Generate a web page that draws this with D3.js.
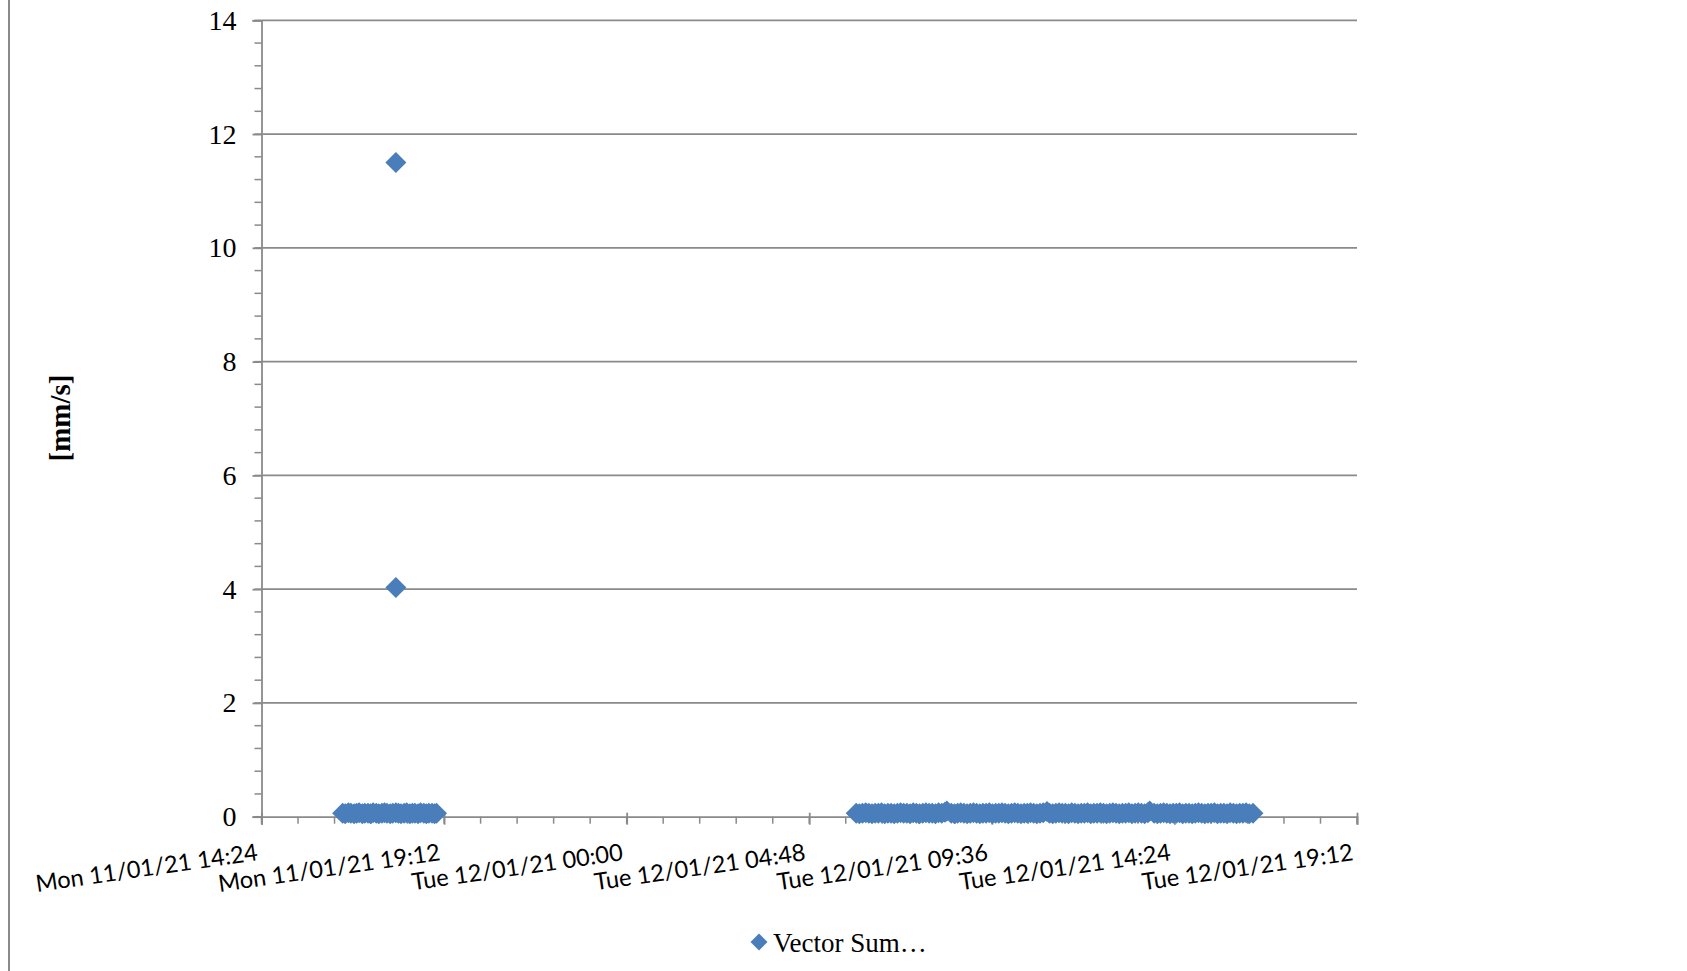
<!DOCTYPE html>
<html>
<head>
<meta charset="utf-8">
<script src="https://cdn.jsdelivr.net/npm/d3@7"></script>
<style>
  html, body { margin: 0; padding: 0; background: #ffffff; }
  svg { display: block; }
</style>
</head>
<body>
<svg id="chart" width="1687" height="971"></svg>
<script>
// ---------------- DATA ----------------
const seriesName = "Vector Sum…";
const yTitle = "[mm/s]";

// X ticks (every 4h48m)
const xTicks = [
  "2021-01-11 14:24", "2021-01-11 19:12", "2021-01-12 00:00",
  "2021-01-12 04:48", "2021-01-12 09:36", "2021-01-12 14:24",
  "2021-01-12 19:12"
];
const yTicks = [0, 2, 4, 6, 8, 10, 12, 14];

// Monday 11/01/21 readings (HH:MM)
const monTimes = [
  "16:32","16:36","16:41","16:45","16:50","16:54","16:58","17:03","17:07","17:12",
  "17:16","17:20","17:25","17:29","17:34","17:38","17:42","17:47","17:51","17:56",
  "18:00","18:04","18:09","18:13","18:18","18:22","18:26","18:31","18:35","18:40",
  "18:44","18:48","18:53","18:57","19:00"
];
const monValues = [
  0.06,0.05,0.07,0.06,0.05,0.06,0.07,0.05,0.06,0.06,
  0.05,0.07,0.06,0.05,0.06,0.07,0.06,0.05,0.06,0.07,
  0.06,0.05,0.06,0.07,0.05,0.06,0.06,0.05,0.07,0.06,
  0.05,0.06,0.06,0.05,0.06
];

// Monday peak readings
const peakTimes = ["17:56", "17:56"];
const peakValues = [11.5, 4.03];

// Tuesday 12/01/21 readings (HH:MM)
const tueTimes = [
  "06:02","06:07","06:12","06:17","06:22","06:27","06:32","06:37","06:42","06:47","06:52","06:57",
  "07:02","07:07","07:12","07:17","07:22","07:27","07:32","07:37","07:42","07:47","07:52","07:57",
  "08:02","08:07","08:12","08:17","08:22","08:25","08:32","08:37","08:42","08:47","08:52","08:57",
  "09:02","09:07","09:12","09:17","09:22","09:27","09:32","09:37","09:42","09:47","09:52","09:57",
  "10:02","10:07","10:12","10:17","10:22","10:27","10:32","10:37","10:42","10:47","10:52","10:57",
  "11:03","11:07","11:12","11:17","11:22","11:27","11:32","11:37","11:42","11:47","11:52","11:57",
  "12:02","12:07","12:12","12:17","12:22","12:27","12:32","12:37","12:42","12:47","12:52","12:57",
  "13:02","13:07","13:12","13:17","13:22","13:27","13:32","13:37","13:42","13:45","13:52","13:57",
  "14:02","14:07","14:12","14:17","14:22","14:27","14:32","14:37","14:42","14:47","14:52","14:57",
  "15:02","15:07","15:12","15:17","15:22","15:27","15:32","15:37","15:42","15:47","15:52","15:57",
  "16:02","16:07","16:12","16:17","16:22","16:28"
];
const tueValues = [
  0.06,0.05,0.06,0.07,0.06,0.05,0.06,0.06,0.07,0.05,0.06,0.06,
  0.05,0.06,0.07,0.06,0.06,0.05,0.07,0.06,0.05,0.06,0.07,0.06,
  0.06,0.05,0.07,0.06,0.08,0.10,0.06,0.05,0.06,0.07,0.06,0.05,
  0.06,0.07,0.06,0.05,0.06,0.06,0.07,0.05,0.06,0.06,0.07,0.06,
  0.05,0.06,0.07,0.06,0.05,0.06,0.06,0.07,0.06,0.05,0.06,0.07,
  0.09,0.06,0.05,0.06,0.07,0.06,0.06,0.05,0.07,0.06,0.05,0.06,
  0.06,0.07,0.05,0.06,0.06,0.07,0.06,0.05,0.06,0.07,0.06,0.05,
  0.06,0.06,0.07,0.05,0.06,0.07,0.06,0.05,0.07,0.10,0.06,0.05,
  0.06,0.07,0.06,0.05,0.06,0.06,0.07,0.05,0.06,0.06,0.05,0.06,
  0.07,0.06,0.05,0.06,0.06,0.07,0.05,0.06,0.06,0.05,0.07,0.06,
  0.05,0.06,0.06,0.07,0.05,0.06
];

// ---------------- CHART ----------------
const parse = d3.timeParse("%Y-%m-%d %H:%M");
const fmt = d3.timeFormat("%a %d/%m/%y %H:%M");

const mon = monTimes.map((t, i) => ({ t: parse("2021-01-11 " + t), v: monValues[i] }));
const tue = tueTimes.map((t, i) => ({ t: parse("2021-01-12 " + t), v: tueValues[i] }));
const peaks = peakTimes.map((t, i) => ({ t: parse("2021-01-11 " + t), v: peakValues[i] }));
const points = mon.concat(tue, peaks);

const xTickDates = xTicks.map(parse);

const X0 = 261.5, X1 = 1357, Y0 = 816.7, Y1 = 20.3;
const x = d3.scaleTime().domain([xTickDates[0], xTickDates[xTickDates.length - 1]]).range([X0, X1]);
const y = d3.scaleLinear().domain([0, 14]).range([Y0, Y1]);

const svg = d3.select("#chart");
const gridColor = "#8a8a8a";
const blue = "#4A7EBB";

// outer frame line on left
svg.append("line").attr("x1", 9).attr("x2", 9).attr("y1", 0).attr("y2", 971)
  .attr("stroke", gridColor).attr("stroke-width", 2);

// horizontal gridlines
svg.append("g").selectAll("line").data(yTicks.filter(d => d > 0)).join("line")
  .attr("x1", X0).attr("x2", X1)
  .attr("y1", d => y(d)).attr("y2", d => y(d))
  .attr("stroke", gridColor).attr("stroke-width", 1.8);

// y minor ticks
const yMinor = d3.range(0, 14.0001, 0.4);
svg.append("g").selectAll("line").data(yMinor).join("line")
  .attr("x1", X0 - 7).attr("x2", X0)
  .attr("y1", d => y(d)).attr("y2", d => y(d))
  .attr("stroke", gridColor).attr("stroke-width", 1.5);

// y axis
const yAxis = d3.axisLeft(y).tickValues(yTicks).tickSize(9).tickPadding(16).tickFormat(d3.format("d"));
const gy = svg.append("g").attr("transform", `translate(${X0},0)`).call(yAxis);
gy.select(".domain").attr("stroke", gridColor).attr("stroke-width", 1.8);
gy.selectAll(".tick line").attr("stroke", gridColor).attr("stroke-width", 1.8);
gy.selectAll(".tick text")
  .attr("font-family", "'Liberation Serif', 'DejaVu Serif', serif")
  .attr("font-size", 28).attr("fill", "#000");

// x minor ticks
const stepMs = (xTickDates[1] - xTickDates[0]) / 5;
const xMinor = d3.range(+xTickDates[0], +xTickDates[xTickDates.length - 1] + 1, stepMs).map(d => new Date(d));
svg.append("g").selectAll("line").data(xMinor).join("line")
  .attr("x1", d => x(d)).attr("x2", d => x(d))
  .attr("y1", Y0).attr("y2", Y0 + 7)
  .attr("stroke", gridColor).attr("stroke-width", 1.5);

// x axis
const xAxis = d3.axisBottom(x).tickValues(xTickDates).tickSize(8).tickFormat("");
const gx = svg.append("g").attr("transform", `translate(0,${Y0})`).call(xAxis);
gx.select(".domain").attr("stroke", gridColor).attr("stroke-width", 1.8);
gx.selectAll(".tick line").attr("stroke", gridColor).attr("stroke-width", 1.8).attr("y1", -4);

// x labels (rotated)
const xl = svg.append("g").selectAll("text").data(xTickDates).join("text")
  .attr("text-anchor", "end")
  .attr("font-family", "Lato, 'Open Sans', sans-serif")
  .attr("font-size", 24)
  .attr("fill", "#000")
  .attr("transform", d => `translate(${x(d) - 3},860) rotate(-8.2)`)
  .text(d => fmt(d));
// fit label length to target
const targetLen = 224;
const len0 = xl.node().getComputedTextLength();
xl.attr("font-size", 24 * targetLen / len0);

// markers
const diamond = "M0,-10.5L10.5,0L0,10.5L-10.5,0Z";
svg.append("g").selectAll("path").data(points).join("path")
  .attr("d", diamond)
  .attr("transform", d => `translate(${x(d.t)},${y(d.v)})`)
  .attr("fill", blue);

// y title
svg.append("text")
  .attr("transform", "translate(60,418) rotate(-90)")
  .attr("text-anchor", "middle")
  .attr("dominant-baseline", "central")
  .attr("font-family", "'Liberation Serif', 'DejaVu Serif', serif")
  .attr("font-weight", "bold")
  .attr("font-size", 29)
  .attr("fill", "#000")
  .text(yTitle);

// legend
svg.append("path").attr("d", "M0,-8.5L8.5,0L0,8.5L-8.5,0Z")
  .attr("transform", "translate(759,942)").attr("fill", blue);
svg.append("text")
  .attr("x", 773).attr("y", 952)
  .attr("font-family", "'Liberation Serif', 'DejaVu Serif', serif")
  .attr("font-size", 27)
  .attr("fill", "#000")
  .text(seriesName);
</script>
</body>
</html>
